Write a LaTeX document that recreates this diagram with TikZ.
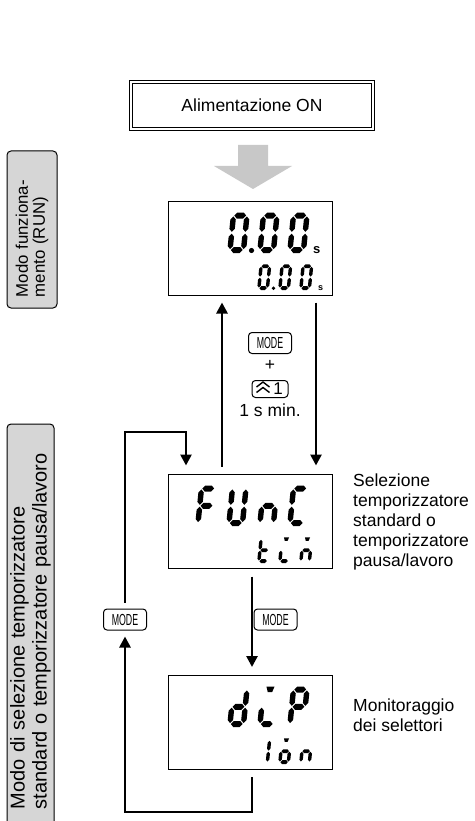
\documentclass[tikz,border=0pt]{standalone}
\usepackage{fontspec}
\setmainfont{Liberation Sans}
\usepackage{graphicx}
\usetikzlibrary{arrows.meta,calc}
\definecolor{arrowgray}{HTML}{C8C8C8}
\definecolor{labelgray}{HTML}{D6D6D6}
\newcommand\lblfont{\fontsize{17.5}{20}\selectfont}
\newcommand\sidefontA{\fontsize{16.8}{17}\selectfont}
\newcommand\sidefontB{\fontsize{20}{22}\selectfont}
\newcommand\keyfont{\fontsize{16}{16}\selectfont}
% seven-segment pieces (local frame: width 1, height 2.3)
\newcommand\SgH[1]{\fill (0.06,#1) -- (0.26,#1+0.2) -- (0.74,#1+0.2) -- (0.94,#1) -- (0.74,#1-0.2) -- (0.26,#1-0.2) -- cycle;}
\newcommand\SgV[3]{\fill (#1,#2+0.06) -- (#1+0.2,#2+0.26) -- (#1+0.2,#3-0.26) -- (#1,#3-0.06) -- (#1-0.2,#3-0.26) -- (#1-0.2,#2+0.26) -- cycle;}
\newcommand\SEGa{\SgH{2.3}}
\newcommand\SEGd{\SgH{0}}
\newcommand\SEGg{\SgH{1.15}}
\newcommand\SEGb{\SgV{1}{1.15}{2.3}}
\newcommand\SEGc{\SgV{1}{0}{1.15}}
\newcommand\SEGe{\SgV{0}{0}{1.15}}
\newcommand\SEGf{\SgV{0}{1.15}{2.3}}
\newcommand\SEGm{\fill (0.2,2.5) -- (0.8,2.5) -- (0.66,2.12) -- (0.34,2.12) -- cycle;}
\newcommand\glyph[4]{%
  \begin{scope}[shift={(#1,#2)}, xslant=0.1, #3, shift={(0.2,0.2)}]
    \foreach \s in {#4}{\csname SEG\s\endcsname}
  \end{scope}}
\begin{document}
\begin{tikzpicture}[x=1pt,y=-1pt,
  conn/.style={line width=2.6pt, -{Triangle[length=11pt,width=11pt]}},
  disp/.style={draw, line width=1pt, minimum width=164pt, minimum height=94pt, inner sep=0pt},
  keycap/.style={draw, line width=1pt, rounded corners=3.5pt, minimum width=43pt, minimum height=21pt, inner sep=0pt, font=\keyfont},
  lbl/.style={font=\lblfont, align=left, anchor=west, inner sep=0pt},
  side/.style={draw, line width=1pt, fill=labelgray, rounded corners=4pt, rotate=90, inner sep=0pt, align=left}]
\path[use as bounding box, clip] (0,0) rectangle (474,821);
\fill[white] (0,0) rectangle (474,821);

% side labels
\node[side, font=\sidefontA, minimum width=157pt, minimum height=50pt, text width=135pt] (runlbl) at (32,229.5) {Modo funziona-\\mento (RUN)};
\node[side, font=\sidefontB, minimum width=406pt, minimum height=47pt, text width=364pt] (sellbl) at (30.5,627) {Modo di selezione temporizzatore\\standard o temporizzatore pausa/lavoro};

% title
\node[draw, double, double distance=2pt, line width=1pt, minimum width=242pt, minimum height=47pt, font=\lblfont] (title) at (252,105.5) {Alimentazione ON};
\fill[arrowgray] (238,145) -- (268,145) -- (268,166) -- (292,166) -- (253,189) -- (214,166) -- (238,166) -- cycle;

% displays
\node[disp] (d1) at (250,248) {};
\node[disp] (d2) at (250,521) {};
\node[disp] (d3) at (250,722.5) {};

% display 1 : 0.00 s / 0.00 s
\glyph{227}{253}{x=13.5pt,y=15pt}{a,b,c,d,e,f}
\glyph{257}{253}{x=13.5pt,y=15pt}{a,b,c,d,e,f}
\glyph{287}{253}{x=13.5pt,y=15pt}{a,b,c,d,e,f}
\fill (251.5,250.5) circle[radius=2.6pt];
\node[anchor=base west, inner sep=0pt, font=\fontsize{13}{13}\selectfont\bfseries] (s1) at (313,253) {s};
\glyph{257}{290}{x=8.5pt,y=9.5pt}{a,b,c,d,e,f}
\glyph{278}{290}{x=8.5pt,y=9.5pt}{a,b,c,d,e,f}
\glyph{299}{290}{x=8.5pt,y=9.5pt}{a,b,c,d,e,f}
\fill (273.5,288.3) circle[radius=1.9pt];
\node[anchor=base west, inner sep=0pt, font=\fontsize{9}{9}\selectfont\bfseries] (s2) at (318,290) {s};

% display 2 : FUnC / tim
\glyph{195}{526}{x=13.5pt,y=15pt}{a,e,f,g}
\glyph{226}{526}{x=13.5pt,y=15pt}{b,c,d,e,f}
\glyph{257}{526}{x=13.5pt,y=15pt}{c,e,g}
\glyph{287}{526}{x=13.5pt,y=15pt}{a,d,e,f}
\glyph{257}{563}{x=8.5pt,y=9.5pt}{d,e,f,g}
\glyph{278}{563}{x=8.5pt,y=9.5pt}{m,e,d}
\glyph{299}{563}{x=8.5pt,y=9.5pt}{m,c,e,g}

% display 3 : dip / 1on
\glyph{227}{727}{x=13.5pt,y=15pt}{b,c,d,e,g}
\glyph{257}{727}{x=13.5pt,y=15pt}{m,e,d}
\glyph{287}{727}{x=13.5pt,y=15pt}{a,b,e,f,g}
\glyph{257}{764}{x=8.5pt,y=9.5pt}{b,c}
\glyph{278}{764}{x=8.5pt,y=9.5pt}{m,c,d,e,g}
\glyph{299}{764}{x=8.5pt,y=9.5pt}{c,e,g}

% key labels
\node[keycap] (modeT) at (270,343) {\scalebox{0.55}[1]{MODE}};
\node[font=\lblfont] (plus) at (270,365) {+};
\node[keycap, minimum width=36pt, minimum height=17pt, font=\fontsize{17}{17}\selectfont] (chev) at (270,389) {\hspace*{16pt}1};
\draw[line width=1.4pt] ([shift={(-13.5,-2)}]chev.center) -- ([shift={(-7,-7)}]chev.center) -- ([shift={(-0.5,-2)}]chev.center);
\draw[line width=1.4pt] ([shift={(-13.5,3.5)}]chev.center) -- ([shift={(-7,-1.5)}]chev.center) -- ([shift={(-0.5,3.5)}]chev.center);
\node[font=\lblfont] (mintext) at (270,410) {1 s min.};
\node[keycap] (modeR) at (275.5,619.5) {\scalebox{0.55}[1]{MODE}};
\node[keycap] (modeL) at (125,619.5) {\scalebox{0.55}[1]{MODE}};

% right labels
\node[lbl] (lblA) at (353,522) {Selezione\\temporizzatore\\standard o\\temporizzatore\\pausa/lavoro};
\node[lbl] (lblB) at (353,715.5) {Monitoraggio\\dei selettori};

% connectors
\coordinate (lb) at (125,812);
\coordinate (lt) at (125,432);
\draw[conn] ([shift={(-28,-7)}]d2.north) -- ([shift={(-28,7)}]d1.south);
\draw[conn] ([shift={(66,7)}]d1.south) -- ([shift={(66,-8)}]d2.north);
\draw[conn] ([shift={(2,8)}]d2.south) -- ([shift={(2,-8)}]d3.north);
\draw[conn] ([shift={(2,7)}]d3.south) |- (lb) -- ([shift={(0,6)}]modeL.south);
\draw[conn] ([shift={(0,-6)}]modeL.north) -- (lt) -| ([shift={(-64,-8)}]d2.north);
\end{tikzpicture}
\end{document}
